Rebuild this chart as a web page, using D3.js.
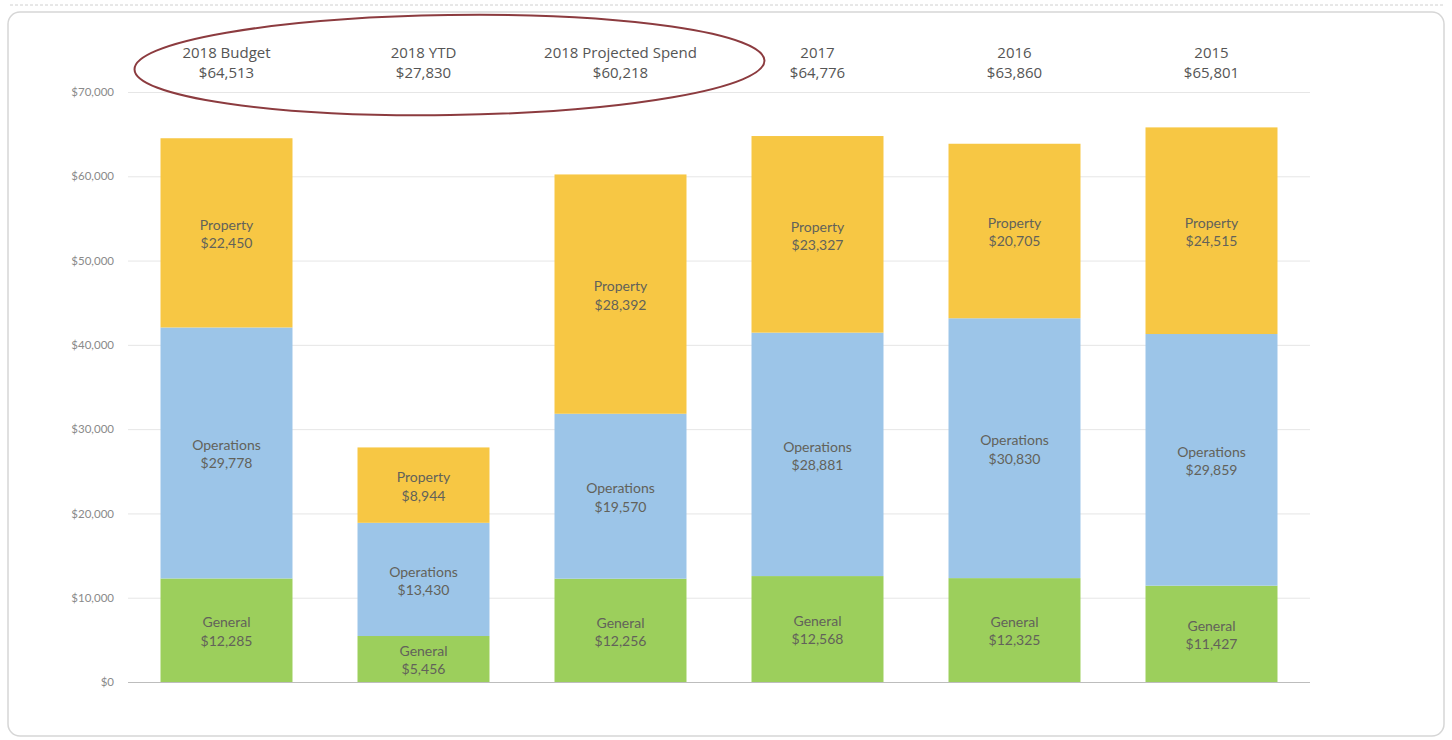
<!DOCTYPE html>
<html>
<head>
<meta charset="utf-8">
<script src="https://cdn.jsdelivr.net/npm/d3@7"></script>
<style>
  body { margin: 0; background: #fff; }
  svg { display: block; }
</style>
</head>
<body>
<div id="chart"></div>
<script>
'use strict';
// columns of the chart
var categories = ['2018 Budget', '2018 YTD', '2018 Projected Spend', '2017', '2016', '2015'];
var general = [12285, 5456, 12256, 12568, 12325, 11427];
var operations = [29778, 13430, 19570, 28881, 30830, 29859];
var property = [22450, 8944, 28392, 23327, 20705, 24515];
var yTicks = [0, 10000, 20000, 30000, 40000, 50000, 60000, 70000];

var seriesNames = ['General', 'Operations', 'Property'];
var seriesColors = { General: '#9ccf5c', Operations: '#9cc5e8', Property: '#f7c744' };

var width = 1452,
    height = 740;

var svg = d3.select('#chart').append('svg')
    .attr('width', width)
    .attr('height', height);

// faint scan edge along the top
svg.append('line')
    .attr('x1', 10).attr('x2', 1444).attr('y1', 5).attr('y2', 5)
    .attr('stroke', '#d0d0d0').attr('stroke-dasharray', '3,2');

// scanned card outline
svg.append('rect')
    .attr('x', 8).attr('y', 12)
    .attr('width', 1436).attr('height', 724)
    .attr('rx', 12)
    .attr('fill', '#fff')
    .attr('stroke', '#d6d6d6')
    .attr('stroke-width', 1.5);

var table = categories.map(function (c, i) {
    return { cat: c, General: general[i], Operations: operations[i], Property: property[i] };
});

var x = d3.scaleBand().domain(categories).range([128, 1310]).paddingInner(0.33).paddingOuter(0.165);
var y = d3.scaleLinear().domain([0, 70000]).range([682, 92]);
var money = function (v) { return '$' + d3.format(',')(v); };

// gridlines + y labels
var yAxis = d3.axisLeft(y).tickValues(yTicks).tickSize(-(1310 - 128)).tickPadding(14).tickFormat(money);
var gy = svg.append('g').attr('transform', 'translate(128,0)').call(yAxis);
gy.select('.domain').remove();
gy.selectAll('.tick line').attr('stroke', function (d) { return d === 0 ? '#bdbdbd' : '#e6e6e6'; });
gy.selectAll('.tick text')
    .attr('fill', '#8a8a8a')
    .style('font-family', 'Lato, "Open Sans", sans-serif')
    .style('font-size', '11.5px');

var stack = d3.stack().keys(seriesNames);
var layers = stack(table);

var layerG = svg.append('g').selectAll('g.layer').data(layers).enter()
    .append('g').attr('class', 'layer')
    .attr('fill', function (d) { return seriesColors[d.key]; });

layerG.selectAll('rect').data(function (d) { return d; }).enter()
    .append('rect')
    .attr('x', function (d) { return x(d.data.cat); })
    .attr('width', x.bandwidth())
    .attr('y', function (d) { return y(d[1]); })
    .attr('height', function (d) { return y(d[0]) - y(d[1]); });

// segment labels
layerG.each(function (layer) {
    d3.select(this).selectAll('text').data(layer).enter()
        .append('text')
        .attr('x', function (d) { return x(d.data.cat) + x.bandwidth() / 2; })
        .attr('y', function (d) { return (y(d[0]) + y(d[1])) / 2; })
        .attr('text-anchor', 'middle')
        .attr('fill', '#62625a')
        .style('font-family', 'Lato, "Open Sans", sans-serif')
        .style('font-size', '14px')
        .call(function (t) {
            t.append('tspan').attr('x', function (d) { return x(d.data.cat) + x.bandwidth() / 2; })
                .attr('dy', '-0.2em').text(layer.key);
            t.append('tspan').attr('x', function (d) { return x(d.data.cat) + x.bandwidth() / 2; })
                .attr('dy', '1.3em').text(function (d) { return money(d[1] - d[0]); });
        });
});

// column headers with totals
var head = svg.append('g').selectAll('text').data(table).enter()
    .append('text')
    .attr('text-anchor', 'middle')
    .attr('fill', '#555')
    .style('font-family', '"Open Sans", sans-serif')
    .style('font-size', '15px');
head.append('tspan')
    .attr('x', function (d) { return x(d.cat) + x.bandwidth() / 2; })
    .attr('y', 58)
    .text(function (d) { return d.cat; });
head.append('tspan')
    .attr('x', function (d) { return x(d.cat) + x.bandwidth() / 2; })
    .attr('y', 78)
    .text(function (d) { return money(d.General + d.Operations + d.Property); });

// hand-drawn circle round the 2018 headers
var c1 = x('2018 Budget'), c3 = x('2018 Projected Spend') + x.bandwidth();
var ecx = (c1 + c3) / 2 + 26;
svg.append('ellipse')
    .attr('cx', ecx)
    .attr('cy', 65)
    .attr('rx', (c3 - c1) / 2 + 52)
    .attr('ry', 50)
    .attr('transform', 'rotate(-0.8,' + ecx + ',65)')
    .attr('fill', 'none')
    .attr('stroke', '#8c3b3f')
    .attr('stroke-width', 2);
</script>
</body>
</html>
